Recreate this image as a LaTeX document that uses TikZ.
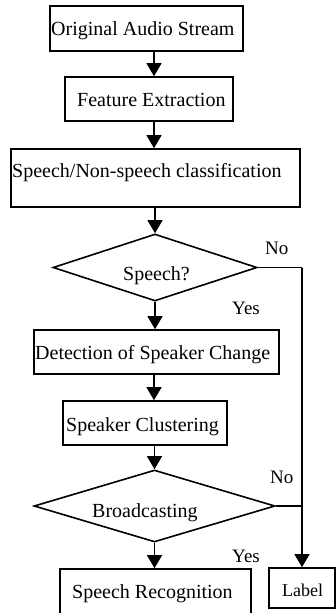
\documentclass[tikz,border=0pt]{standalone}
\usepackage{fontspec}
\setmainfont{Liberation Serif}
\usetikzlibrary{shapes.geometric,arrows.meta}
\tikzset{
  box/.style={draw, line width=1.6pt, inner sep=0pt, rectangle},
  dia/.style={draw, line width=1.6pt, inner sep=0pt, diamond},
  txt/.style={anchor=base west, inner sep=0pt, font=\fontsize{20}{24}\selectfont},
  lbl/.style={anchor=base west, inner sep=0pt, font=\fontsize{19}{23}\selectfont},
  conn/.style={line width=1.3pt},
  arr/.style={line width=1.3pt, -{Triangle[width=15pt,length=13pt]}}
}
\begin{document}
\begin{tikzpicture}[x=1pt,y=-1pt]
\useasboundingbox (0,0) rectangle (336,613);
\coordinate (ax) at (154,0);
% boxes
\node[box, minimum width=193pt, minimum height=45pt] (b1) at (146.5,28.5) {};
\node[box, minimum width=168pt, minimum height=44pt] (b2) at (149,99) {};
\node[box, minimum width=289pt, minimum height=58pt] (b3) at (155.5,178) {};
\node[dia, minimum width=204pt, minimum height=67pt] (d1) at (155,267.5) {};
\node[box, minimum width=245pt, minimum height=44pt] (b4) at (156.5,352) {};
\node[box, minimum width=164pt, minimum height=44pt] (b5) at (145,423) {};
\node[dia, minimum width=241pt, minimum height=72pt] (d2) at (154.5,506) {};
\node[box, minimum width=191pt, minimum height=46pt] (b6) at (155.5,592) {};
\node[box, minimum width=66pt, minimum height=40pt] (lab) at (302,588) {};
% texts
\node[txt] (t1) at (51,35.5) {Original Audio Stream};
\node[txt] (t2) at (77,106.5) {Feature Extraction};
\node[txt] (t3) at (12,177.5) {Speech/Non-speech classification};
\node[txt] (td1) at (123,280) {Speech?};
\node[txt] (t4) at (35,359) {Detection of Speaker Change};
\node[txt] (t5) at (66,431) {Speaker Clustering};
\node[txt] (td2) at (92,517) {Broadcasting};
\node[txt] (t6) at (72,598) {Speech Recognition};
\node[anchor=base west, inner sep=0pt, font=\fontsize{18}{22}\selectfont] (tl) at (282,596) {Label};
\node[lbl] (no1) at (265,254) {No};
\node[lbl] (yes1) at (232,314) {Yes};
\node[lbl] (no2) at (270,483) {No};
\node[lbl] (yes2) at (232,562) {Yes};
% connectors
\draw[arr] (b1.south -| ax) -- (b2.north -| ax);
\draw[arr] (b2.south -| ax) -- (b3.north -| ax);
\draw[arr] (b3.south -| d1.north) -- (d1.north);
\draw[arr] (d1.south) -- (b4.north -| d1.south);
\draw[arr] (b4.south -| ax) -- (b5.north -| ax);
\draw[arr] (b5.south -| d2.north) -- (d2.north);
\draw[arr] (d2.south) -- (b6.north -| d2.south);
\draw[conn] (d1.east) -- (d1.east -| lab.north);
\draw[arr] (d1.east -| lab.north) -- (lab.north);
\draw[conn] (d2.east) -- (d2.east -| lab.north);
\end{tikzpicture}
\end{document}
